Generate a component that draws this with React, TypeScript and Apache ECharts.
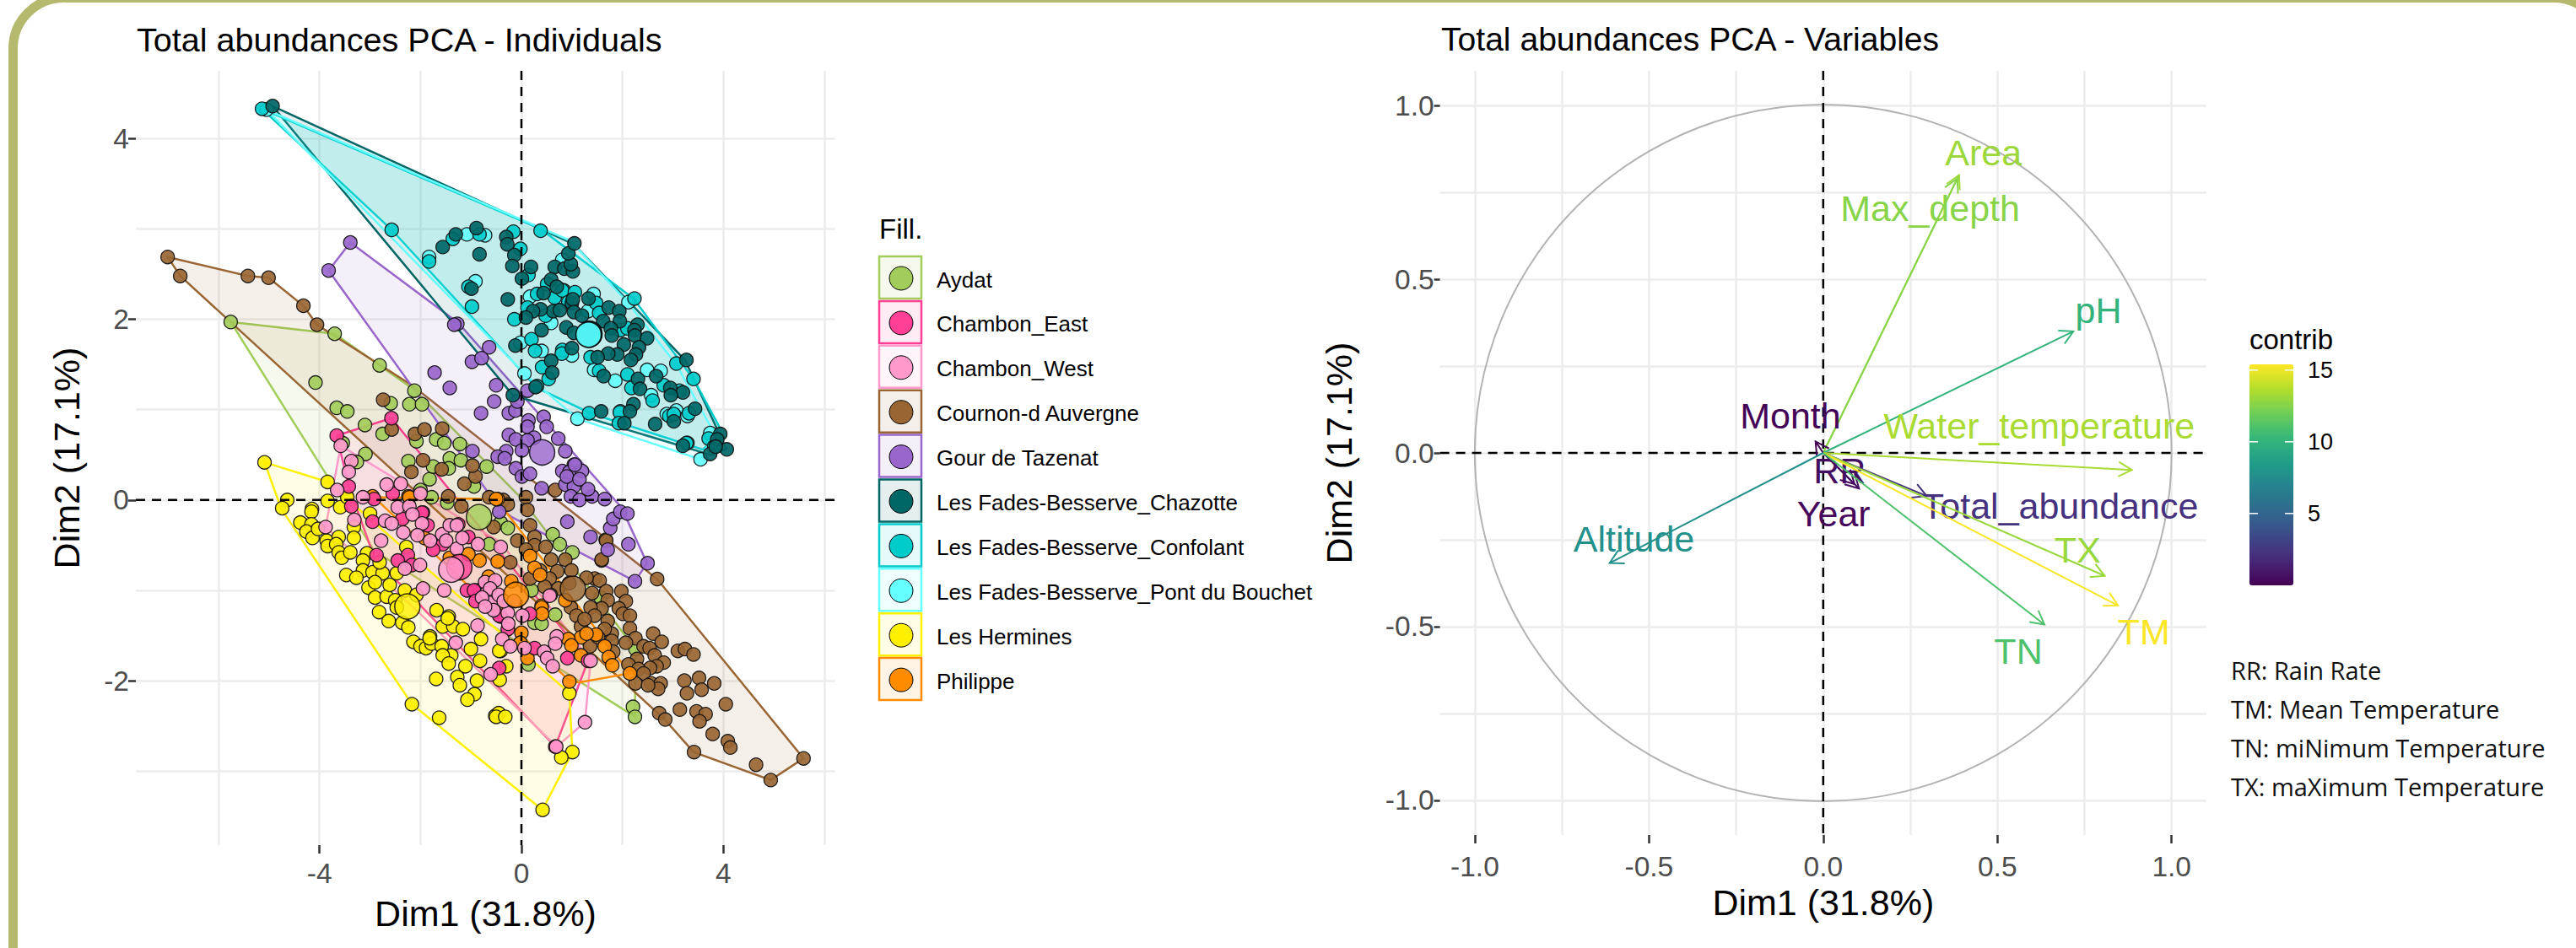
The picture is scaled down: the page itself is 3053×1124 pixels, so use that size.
import React, { useEffect, useRef } from "react";
import * as echarts from "echarts";

type P = [number, number];

const SITE_NAMES = ["Aydat", "Chambon_East", "Chambon_West", "Cournon-d Auvergne", "Gour de Tazenat", "Les Fades-Besserve_Chazotte", "Les Fades-Besserve_Confolant", "Les Fades-Besserve_Pont du Bouchet", "Les Hermines", "Philippe"];
const SITE_COLORS = ["#a2cd5a", "#ff3e96", "#ff99cc", "#996633", "#9966cc", "#006666", "#00cccc", "#66ffff", "#fff000", "#ff8c00"];

const aydat: P[] = [[-5.76,1.97],[-3.70,1.84],[-2.81,1.49],[-4.08,1.30],[-2.12,1.21],[-3.66,1.02],[-3.45,.98],[-3.10,.83],[-2.75,.73],[-2.59,1.07],[-2.22,1.06],[-1.97,1.06],[-2.08,.65],[-1.69,.67],[-1.53,.63],[-1.22,.62],[-2.24,.43],[-3.09,.51],[-3.26,.42],[-3.54,.63],[-1.82,.23],[-1.75,.37],[-1.42,.46],[-1.44,.35],[-1.20,.44],[-.69,.37],[-.94,.15],[-2.0,.11],[-1.78,.03],[-1.47,-.03],[-.41,-.25],[-.27,-.31],[.62,-.38],[.76,-.49],[1.01,-.58],[.20,-1.0],[.67,-1.27],[.26,-1.36],[.40,-1.37],[.14,-1.82],[2.21,-2.29],[2.25,-2.40],[2.26,-1.65],[1.57,-1.08],[-.64,-.49]];
const chambonEast: P[] = [[-2.575,.906],[-3.66,.713],[-3.42,.15],[-2.55,.07],[-2.92,.01],[-3.37,-.07],[-2.95,-.24],[-2.36,-.21],[-1.95,-.14],[-2.87,-.61],[-1.97,-.14],[-1.86,-.28],[-1.25,-.27],[-1.05,-.41],[-1.56,-.49],[-1.75,-.55],[-2.25,-.61],[-2.45,-.67],[-2.17,-.72],[-.91,-1.0],[-.41,-1.29],[-.77,-.98],[-1.08,-1.0],[-.94,-1.0],[-.44,-1.28],[-.91,-1.12],[-.27,-1.43],[.17,-1.26],[.26,-1.64],[.91,-1.75],[-.44,-1.86],[.67,-2.73],[1.32,-1.78]];
const chambonWest: P[] = [[-3.58,.60],[-3.37,.43],[-3.42,.31],[-2.67,.17],[-2.39,.18],[-2.0,.07],[-2.45,-.08],[-2.22,-.07],[-2.16,-.16],[-1.97,-.26],[-2.70,-.23],[-2.57,-.26],[-2.34,-.36],[-2.06,-.39],[-2.78,-.45],[-1.81,-.45],[-1.57,-.38],[-1.49,-.45],[-1.28,-.54],[-1.17,-.42],[-.86,-.49],[-2.31,-.76],[-2.01,-.72],[-1.95,-.98],[-1.53,-1.0],[-3.14,.03],[-3.31,-.22],[-3.88,-.30],[-3.65,.11],[-.72,-.91],[-.52,-.89],[-.69,-1.03],[-.61,-1.14],[-.27,-1.25],[-.26,-1.37],[.02,-1.28],[-.87,-1.39],[-.38,-1.54],[-.22,-1.62],[-1.30,-1.58],[.06,-1.64],[.45,-1.68],[.70,-1.51],[.67,-1.59],[.51,-1.75],[.62,-1.84],[.56,-1.06],[1.26,-2.46],[.69,-2.73],[1.37,-1.78],[-.61,-1.93],[-1.42,-.28],[-1.28,-.28],[-.41,-.52],[-.62,-.98],[-.45,-1.05],[-.78,-1.08],[-.35,-1.12],[-.55,-1.22],[-.72,-1.18],[-.15,-1.12]];
const cournon: P[] = [[-7.01,2.69],[-6.76,2.48],[-5.42,2.48],[-5.01,2.46],[-4.32,2.15],[-4.05,1.94],[-2.74,1.11],[-2.57,.78],[-2.11,.73],[-1.92,.78],[-1.57,.79],[-1.95,.44],[-2.18,.31],[-1.58,.34],[-1.13,.18],[-.91,.26],[-.97,.38],[-1.45,.04],[-1.19,-.07],[-.64,.03],[-.36,0],[-.27,-.05],[.09,.03],[.12,-.11],[.67,.11],[1.59,-.67],[1.67,-.44],[-.55,-.30],[-.08,-.45],[.17,-.28],[.26,-.41],[-.22,-.69],[2.69,-.875],[1.45,-.87],[1.55,-.89],[1.98,-1.01],[2.07,-1.12],[1.68,-1.01],[1.40,-1.03],[1.71,-1.11],[1.93,-1.20],[2.01,-1.26],[2.15,-1.28],[1.59,-1.20],[1.37,-1.19],[1.29,-.86],[.98,-1.19],[1.09,-1.28],[1.45,-1.28],[1.18,-1.40],[1.71,-1.34],[1.79,-1.48],[1.65,-1.43],[2.15,-1.42],[2.26,-1.53],[2.07,-1.58],[2.61,-1.48],[2.78,-1.57],[2.42,-1.62],[2.54,-1.64],[2.64,-1.72],[1.36,-1.62],[3.10,-1.67],[3.24,-1.65],[3.41,-1.71],[2.82,-1.80],[2.29,-1.76],[2.68,-1.84],[2.55,-1.86],[2.12,-1.82],[2.32,-1.87],[2.42,-1.92],[2.26,-2.03],[2.57,-2.03],[2.76,-2.03],[2.71,-2.09],[2.51,-2.05],[3.23,-2.0],[3.52,-1.97],[3.82,-2.03],[3.57,-2.10],[3.28,-2.14],[4.05,-2.26],[3.14,-2.32],[3.47,-2.34],[3.65,-2.37],[3.53,-2.45],[2.73,-2.36],[2.85,-2.43],[3.79,-2.59],[4.09,-2.67],[4.14,-2.74],[4.65,-2.93],[3.42,-2.79],[4.94,-3.10],[5.59,-2.86],[1.68,-.45],[1.59,-.66],[.87,-.66],[.99,-.78],[.59,-.66],[.71,-.79],[.56,-.87],[.26,-.50],[.48,-.52],[.09,-.55],[.37,-.78],[.17,-.87],[1.79,-1.56],[.73,-.98],[.95,-.92],[.58,-1.05],[.46,-.96],[1.25,-1.32],[1.52,-1.52],[1.82,-1.68]];
const gour: P[] = [[-3.39,2.85],[-3.82,2.54],[-1.27,1.95],[-1.33,1.94],[-.64,1.69],[-.98,1.53],[-.79,1.57],[-1.72,1.41],[-1.42,1.24],[-.50,1.27],[-.54,1.09],[-.80,.96],[-.25,.96],[-.12,.99],[-.08,1.09],[.12,1.21],[.14,.88],[.44,.92],[.12,.81],[.50,.81],[-.25,.72],[-.11,.67],[.25,.69],[.12,.66],[.73,.68],[.87,.54],[.01,.55],[-.30,.54],[-.47,.48],[-.33,.46],[-.11,.35],[.01,.26],[.17,.29],[.81,.32],[1.04,.39],[.95,.31],[1.20,.32],[-.97,.54],[.40,.13],[.87,.17],[1.04,.15],[1.06,.39],[.90,.26],[1.15,.23],[.98,.04],[1.15,0],[1.40,.04],[1.65,.01],[1.32,.12],[.91,-.24],[1.37,-.41],[1.71,-.55],[2.12,-.49],[1.76,-.31],[1.82,-.21],[1.96,-.13],[2.10,-.15],[2.50,-.70],[2.25,-.90],[-.44,-.13]];
const chazotte: P[] = [[-4.93,4.36],[-1.30,2.94],[-.89,3.01],[-1.56,2.80],[-.83,2.72],[-.30,2.91],[-.28,2.83],[-.14,2.71],[-.18,2.59],[.19,2.58],[.01,2.45],[-.99,2.34],[-.27,2.22],[.66,2.58],[.85,2.56],[1.02,2.53],[.98,2.61],[.93,2.73],[1.05,2.84],[.59,2.44],[.70,2.36],[.44,2.29],[1.00,2.18],[1.02,2.22],[1.33,2.23],[1.04,2.08],[1.20,2.04],[.63,2.09],[.38,2.11],[.23,2.09],[.09,2.02],[.40,1.88],[.76,2.10],[.89,1.91],[1.04,1.85],[1.73,2.13],[1.94,2.09],[1.95,1.98],[1.62,1.98],[1.77,1.90],[1.79,1.82],[2.30,1.94],[2.24,1.88],[2.25,1.82],[2.49,1.79],[2.33,1.69],[2.03,1.72],[1.90,1.61],[1.72,1.62],[1.51,1.58],[2.27,1.61],[2.17,1.55],[1.63,1.37],[1.00,1.68],[-.12,1.71],[.59,1.54],[.61,1.41],[.28,1.25],[-.17,1.16],[2.31,1.34],[2.67,1.37],[2.35,1.23],[2.95,1.24],[3.20,1.19],[2.96,1.16],[2.22,1.06],[2.15,.98],[2.04,.85],[1.58,.98],[3.02,.87],[2.65,.84],[3.44,1.01],[3.20,.60],[3.27,1.55],[3.94,.73],[3.88,.67],[4.07,.56],[3.74,.51],[3.85,.59]];
const confolant: P[] = [[-5.14,4.33],[-2.57,2.99],[-1.83,2.64],[-1.36,2.89],[-.83,2.94],[-.16,2.97],[-.02,2.78],[.14,2.49],[.38,2.98],[-.98,2.14],[-1.05,2.36],[-.14,2.00],[.20,1.78],[.27,1.65],[.41,1.47],[.54,1.34],[.81,1.66],[.80,1.62],[.66,2.24],[.31,2.28],[.51,2.39],[.81,2.32],[.93,2.19],[1.06,2.30],[.48,2.04],[1.48,2.18],[.12,2.13],[1.54,2.07],[1.96,1.88],[2.10,1.90],[1.37,1.58],[1.54,1.43],[2.10,1.39],[2.24,2.23],[2.60,1.10],[2.82,1.27],[2.18,1.24],[1.34,.96],[1.95,.97],[1.93,.85],[2.93,.93],[3.02,.95],[3.32,.96],[3.41,1.34],[3.27,.63],[3.71,.68],[3.82,.59],[.31,1.26],[3.13,1.21],[3.07,1.51]];
const pontBouchet: P[] = [[-5.05,4.32],[-1.83,2.69],[-.72,2.93],[-1.08,2.94],[-.91,2.42],[.06,1.40],[-.02,1.74],[.59,1.96],[1.00,1.60],[.40,1.65],[1.32,2.09],[1.43,2.28],[.17,2.25],[.84,2.32],[.81,2.66],[1.86,1.32],[1.44,1.44],[1.11,.90],[1.96,.98],[2.57,1.16],[2.76,1.43],[2.49,1.44],[3.07,.99],[2.88,.95],[3.29,.93],[3.55,.45],[3.29,.63],[2.12,2.19],[3.74,.74]];
const hermines: P[] = [[-5.09,.417],[-4.64,0],[-4.74,-.09],[-3.84,.20],[-3.84,-.01],[-4.15,-.10],[-4.16,-.13],[-3.59,-.08],[-4.38,-.25],[-4.16,-.27],[-4.26,-.35],[-4.14,-.42],[-4.03,-.32],[-3.86,-.45],[-3.84,-.51],[-3.62,-.41],[-3.67,-.49],[-3.32,-.30],[-3.32,-.42],[-3.62,-.58],[-3.56,-.64],[-3.39,-.58],[-3.06,-.59],[-3.14,-.67],[-3.14,-.78],[-3.47,-.83],[-3.27,-.86],[-2.95,-.80],[-2.75,-.81],[-3.03,-.97],[-2.90,-.91],[-2.90,-1.08],[-2.67,-1.07],[-2.82,-1.24],[-2.63,-1.34],[-2.36,-1.36],[-2.24,-1.41],[-2.50,-1.11],[-2.47,-1.19],[-2.61,-.94],[-2.31,-1.0],[-2.08,-1.05],[-2.81,-.69],[-2.47,-.81],[-2.28,-.52],[-3.0,-.15],[-3.45,.03],[-2.14,-1.57],[-2.0,-1.62],[-1.89,-1.64],[-1.81,-1.51],[-1.78,-1.59],[-1.58,-1.62],[-1.68,-1.22],[-1.44,-1.29],[-1.56,-1.40],[-1.35,-1.40],[-1.16,-1.43],[-.80,-1.54],[-1.0,-1.65],[-1.39,-1.72],[-.41,-1.67],[-1.82,-1.53],[-1.56,-1.72],[-1.44,-1.81],[-1.11,-1.84],[-1.69,-1.98],[-1.27,-1.96],[-1.22,-2.05],[-.88,-2.0],[-.93,-2.15],[-1.07,-2.21],[-2.17,-2.26],[-1.63,-2.41],[-.52,-2.39],[-.45,-2.36],[-.50,-2.40],[-.32,-2.40],[-1.46,-1.31],[-.82,-1.78],[-.44,-1.67],[-.30,-1.84],[-.43,-1.99],[.95,-2.14],[1.01,-2.79],[.79,-2.85],[.42,-3.43]];
const philippe: P[] = [[-2.95,.04],[-2.24,.04],[-.47,.01],[-.83,-.67],[-.47,-.68],[-1.42,-.64],[0,-1.47],[-.02,-1.58],[-.50,.01],[-1.92,-.42],[-2.22,.03],[-.47,-1.19],[.40,-1.17],[.17,-.62],[.26,-.75],[.37,-.83],[1.48,-1.49],[1.18,-1.52],[1.29,-1.48],[1.65,-1.62],[1.73,-1.74],[1.80,-1.83],[.93,-1.54],[.99,-1.61],[1.18,-1.72],[2.15,-1.92],[.95,-2.01],[.87,-1.11],[.40,-1.19],[.41,-1.26],[.12,-1.75],[-1.05,-.60],[-.20,-.90],[-.65,-.85]];
const SITE_POINTS: P[][] = [aydat, chambonEast, chambonWest, cournon, gour, chazotte, confolant, pontBouchet, hermines, philippe];

const aydatHull: P[] = [[-5.76,1.97],[-3.70,1.84],[-2.81,1.49],[-2.12,1.22],[-.02,.03],[2.26,-1.65],[2.25,-2.40],[-2.92,-.56]];
const chambonEastHull: P[] = [[-2.575,.906],[-3.66,.713],[-3.42,.15],[-2.92,-.63],[.67,-2.73],[1.32,-1.78]];
const chambonWestHull: P[] = [[-3.58,.60],[-.41,-.47],[1.37,-1.78],[1.26,-2.46],[.70,-2.73],[-1.97,-1.28],[-3.88,-.30]];
const cournonHull: P[] = [[-7.01,2.69],[-5.42,2.48],[-5.01,2.46],[-4.32,2.15],[-4.05,1.94],[-2.17,1.27],[2.69,-.875],[5.59,-2.86],[4.94,-3.10],[3.41,-2.79],[2.84,-2.43],[-6.76,2.48]];
const gourHull: P[] = [[-3.39,2.85],[-1.25,1.96],[1.98,-.08],[2.49,-.70],[2.25,-.90],[-.19,-.19],[-.47,-.065],[-3.82,2.54]];
const chazotteHull: P[] = [[-4.93,4.36],[1.04,2.83],[3.24,1.55],[4.06,.567],[3.77,.495],[-.17,1.16]];
const confolantHull: P[] = [[-5.14,4.33],[.38,3.0],[2.22,2.23],[3.42,1.33],[3.96,.77],[3.6,.557],[1.37,.96],[.31,1.24],[-2.57,2.99]];
const pontBouchetHull: P[] = [[-5.05,4.32],[.97,2.87],[2.10,2.19],[3.07,1.5],[3.82,.74],[3.55,.45],[1.11,.90],[.06,1.40]];
const herminesHull: P[] = [[-5.09,.417],[-3.84,.20],[.95,-2.135],[1.01,-2.79],[.416,-3.43],[-2.17,-2.26],[-4.76,-.097]];
const philippeHull: P[] = [[-2.92,.03],[-.50,.01],[2.15,-1.92],[1.13,-2.02],[.93,-1.99]];
const SITE_HULLS: P[][] = [aydatHull, chambonEastHull, chambonWestHull, cournonHull, gourHull, chazotteHull, confolantHull, pontBouchetHull, herminesHull, philippeHull];

const CENTROIDS: P[] = [[-.84,-.19],[-1.23,-.744],[-1.39,-.77],[1.02,-.983],[.41,.526],[1.35,1.84],[1.34,1.83],[1.33,1.83],[-2.26,-1.18],[-.106,-1.05]];

const VAR_NAMES = ["Area", "Max_depth", "pH", "Water_temperature", "Month", "Year", "RR", "Total_abundance", "TX", "TM", "TN", "Altitude"];
const VAR_X = [0.39, 0.385, 0.718, 0.886, -0.022, 0.09, 0.103, 0.297, 0.808, 0.846, 0.635, -0.613];
const VAR_Y = [0.8, 0.79, 0.35, -0.049, 0.033, -0.09, -0.1025, -0.124, -0.354, -0.439, -0.494, -0.317];
const VAR_CONTRIB = [13.1, 12.6, 10, 13.4, 0.1, 0.3, 0.6, 2.2, 13, 15.3, 11, 7.7];
const LABEL_X = [0.46, 0.307, 0.79, 0.62, -0.094, 0.03, 0.047, 0.68, 0.73, 0.92, 0.56, -0.543];
const LABEL_Y = [0.865, 0.705, 0.41, 0.078, 0.108, -0.176, -0.05, -0.153, -0.28, -0.516, -0.57, -0.247];

const VIRIDIS = ["#440154", "#482878", "#3e4989", "#31688e", "#26828e", "#1f9e89", "#35b779", "#6ece58", "#b5de2b", "#fde725"];
const CONTRIB_TICKS = [15, 10, 5];
const NOTES = ["RR: Rain Rate", "TM: Mean Temperature", "TN: miNimum Temperature", "TX: maXimum Temperature"];

const IND_X_LABELS = [-4, 0, 4];
const IND_X_GRID = [-6, -4, -2, 0, 2, 4, 6];
const IND_Y_LABELS = [-2, 0, 2, 4];
const IND_Y_GRID = [-3, -2, -1, 0, 1, 2, 3, 4];
const VAR_LABELS = [-1, -0.5, 0, 0.5, 1];
const VAR_GRID = [-1, -0.75, -0.5, -0.25, 0, 0.25, 0.5, 0.75, 1];

const FONT = '"Liberation Sans", Arial, sans-serif';
const W = 3053;
const H = 1124;

function rgba(hex: string, a: number) {
  const n = parseInt(hex.slice(1), 16);
  return `rgba(${(n >> 16) & 255},${(n >> 8) & 255},${n & 255},${a})`;
}

function labelAxis(min: number, max: number, ticks: number[], grid: number, tickLen: number, margin: number, digits: number, name: string, gap: number, pos: string) {
  return {
    type: "value", gridIndex: grid, min, max, position: pos,
    name, nameLocation: "middle", nameGap: gap,
    nameTextStyle: { fontSize: 43, fontFamily: FONT, color: "#000" },
    axisLine: { show: true, onZero: false, lineStyle: { color: "rgba(0,0,0,0)", width: 1 } },
    axisTick: { show: true, inside: false, length: tickLen, customValues: ticks, lineStyle: { color: "#333333", width: 2.5 } },
    axisLabel: { show: true, margin, customValues: ticks, fontSize: 33.5, fontFamily: FONT, color: "#4d4d4d", formatter: (v: number) => v.toFixed(digits) },
    splitLine: { show: false },
  };
}
function gridAxis(min: number, max: number, lines: number[], grid: number, pos: string, w: number) {
  return {
    type: "value", gridIndex: grid, min, max, position: pos,
    axisLine: { show: false, onZero: false },
    axisTick: { show: false, customValues: lines },
    axisLabel: { show: false },
    splitLine: { show: true, lineStyle: { color: "#ececec", width: w } },
  };
}

function buildOption() {
  const series: any[] = [];
  const dash = (data: P[], xi: number, yi: number) => ({
    type: "line", xAxisIndex: xi, yAxisIndex: yi, data, showSymbol: false, silent: true, z: 3,
    lineStyle: { color: "#000", width: 2.5, type: [11, 8] },
  });
  const order = [0, 3, 4, 7, 6, 5, 8, 9, 1, 2];
  order.forEach((i) => {
    series.push({
      type: "scatter", name: SITE_NAMES[i], xAxisIndex: 0, yAxisIndex: 0, data: SITE_POINTS[i], symbolSize: 16, silent: true, z: 2,
      itemStyle: { color: SITE_COLORS[i], borderColor: "#111", borderWidth: 1.3, opacity: 0.92 },
    });
  });
  SITE_HULLS.forEach((hull, i) => {
    series.push({
      type: "custom", name: SITE_NAMES[i] + " hull", xAxisIndex: 0, yAxisIndex: 0, data: hull, silent: true, z: 2, clip: false,
      encode: { x: 0, y: 1 },
      renderItem: (params: any, api: any) => {
        if (params.dataIndex !== 0) return null;
        return {
          type: "polygon",
          shape: { points: hull.map((p) => api.coord(p)) },
          style: { fill: rgba(SITE_COLORS[i], 0.1), stroke: SITE_COLORS[i], lineWidth: 2.5 },
        };
      },
    });
  });
  series.push(dash([[-7.64, 0], [6.22, 0]], 0, 0), dash([[0, 4.75], [0, -3.82]], 0, 0));
  series.push({
    type: "scatter", name: "centroids", xAxisIndex: 0, yAxisIndex: 0, silent: true, z: 4, symbolSize: 30,
    data: CENTROIDS.map((p, i) => ({ value: p, itemStyle: { color: SITE_COLORS[i], borderColor: "#000", borderWidth: 1.5 } })),
  });
  series.push(dash([[-1.1, 0], [1.1, 0]], 2, 2), dash([[0, 1.1], [0, -1.1]], 2, 2));
  series.push({
    type: "custom", name: "circle", xAxisIndex: 2, yAxisIndex: 2, data: [[0, 0]], silent: true, z: 3, encode: { x: 0, y: 1 },
    renderItem: (_p: any, api: any) => {
      const c = api.coord([0, 0]);
      const r = api.size([1, 1])[0];
      return { type: "circle", shape: { cx: c[0], cy: c[1], r }, style: { fill: "none", stroke: "#b3b3b3", lineWidth: 2 } };
    },
  });
  const arrowIndex = series.length;
  series.push({
    type: "custom", name: "variables", xAxisIndex: 2, yAxisIndex: 2, silent: true, z: 4,
    data: VAR_X.map((x, i) => [x, VAR_Y[i], VAR_CONTRIB[i]]),
    encode: { x: 0, y: 1 },
    renderItem: (params: any, api: any) => {
      const i = params.dataIndex;
      const color = api.visual("color");
      const o = api.coord([0, 0]);
      const t = api.coord([api.value(0), api.value(1)]);
      const l = api.coord([LABEL_X[i], LABEL_Y[i]]);
      const a = Math.atan2(t[1] - o[1], t[0] - o[0]);
      const head = 18;
      const h1 = [t[0] - head * Math.cos(a - 0.5), t[1] - head * Math.sin(a - 0.5)];
      const h2 = [t[0] - head * Math.cos(a + 0.5), t[1] - head * Math.sin(a + 0.5)];
      return {
        type: "group",
        children: [
          { type: "line", shape: { x1: o[0], y1: o[1], x2: t[0], y2: t[1] }, style: { stroke: color, lineWidth: 2 } },
          { type: "polyline", shape: { points: [h1, t, h2] }, style: { stroke: color, fill: "none", lineWidth: 2 } },
          { type: "text", style: { x: l[0], y: l[1], text: VAR_NAMES[i], fill: color, fontSize: 43, fontFamily: FONT, align: "center", verticalAlign: "middle", textAlign: "center", textVerticalAlign: "middle" } },
        ],
      };
    },
  });

  const legend: any[] = [
    { type: "text", x: 1042, y: 271, style: { text: "Fill.", fontSize: 33, fontFamily: FONT, fill: "#000", verticalAlign: "middle" } },
  ];
  SITE_NAMES.forEach((name, i) => {
    const top = 304 + i * 52.9;
    legend.push(
      { type: "rect", shape: { x: 1042, y: top, width: 50, height: 50 }, style: { fill: rgba(SITE_COLORS[i], 0.1), stroke: SITE_COLORS[i], lineWidth: 2.5 } },
      { type: "circle", shape: { cx: 1068, cy: top + 26, r: 14 }, style: { fill: SITE_COLORS[i], stroke: "#000", lineWidth: 1 } },
      { type: "text", x: 1110, y: top + 27.5, style: { text: name, fontSize: 26, fontFamily: FONT, fill: "#000", verticalAlign: "middle" } },
    );
  });
  const bar: any[] = [
    { type: "text", x: 2666, y: 402, z: 10, style: { text: "contrib", fontSize: 33, fontFamily: FONT, fill: "#000", verticalAlign: "middle" } },
  ];
  CONTRIB_TICKS.forEach((v) => {
    const y = 693.8 - (v / 15.4) * 261.8;
    bar.push(
      { type: "line", z: 10, shape: { x1: 2666, y1: y, x2: 2676, y2: y }, style: { stroke: "#fff", lineWidth: 1.5 } },
      { type: "line", z: 10, shape: { x1: 2708, y1: y, x2: 2718, y2: y }, style: { stroke: "#fff", lineWidth: 1.5 } },
      { type: "text", x: 2735, y, z: 10, style: { text: String(v), fontSize: 27, fontFamily: FONT, fill: "#000", verticalAlign: "middle" } },
    );
  });
  const notes = NOTES.map((t, i) => ({
    type: "text", x: 2644, y: 794 + i * 46.3,
    style: { text: t, fontSize: 29, fontFamily: '"Open Sans", "Noto Sans", sans-serif', fill: "#111", verticalAlign: "middle" },
  }));

  return {
    animation: false,
    backgroundColor: "#fff",
    title: [
      { text: "Total abundances PCA - Individuals", left: 162, top: 27, padding: 0, textStyle: { fontSize: 39.6, fontWeight: "normal", fontFamily: FONT, color: "#000" } },
      { text: "Total abundances PCA - Variables", left: 1708, top: 27, padding: 0, textStyle: { fontSize: 39.1, fontWeight: "normal", fontFamily: FONT, color: "#000" } },
    ],
    grid: [
      { left: 161, top: 84, width: 829, height: 918, containLabel: false },
      { left: 1706.6, top: 84, width: 908.4, height: 906, containLabel: false },
    ],
    xAxis: [
      labelAxis(-7.64, 6.22, IND_X_LABELS, 0, 10, 16, 0, "Dim1 (31.8%)", 59, "bottom"),
      gridAxis(-7.64, 6.22, IND_X_GRID, 0, "bottom", 2.5),
      labelAxis(-1.1, 1.1, VAR_LABELS, 1, 10, 20, 1, "Dim1 (31.8%)", 53, "bottom"),
      gridAxis(-1.1, 1.1, VAR_GRID, 1, "bottom", 2.5),
    ],
    yAxis: [
      labelAxis(-3.82, 4.75, IND_Y_LABELS, 0, 9, 8, 0, "Dim2 (17.1%)", 61, "left"),
      gridAxis(-3.82, 4.75, IND_Y_GRID, 0, "left", 2.5),
      labelAxis(-1.1, 1.1, VAR_LABELS, 1, 7, 7, 1, "Dim2 (17.1%)", 98, "left"),
      gridAxis(-1.1, 1.1, VAR_GRID, 1, "left", 2.5),
    ],
    visualMap: [{
      type: "continuous", show: true, seriesIndex: arrowIndex, dimension: 2, min: 0, max: 15.4,
      left: 2666, top: 432, itemWidth: 52, itemHeight: 262, padding: 0, calculable: false, hoverLink: false, text: null, realtime: false,
      inRange: { color: VIRIDIS }, textStyle: { color: "rgba(0,0,0,0)", fontSize: 1 },
    }],
    graphic: { elements: [
      { type: "rect", z: 0, silent: true, shape: { x: 15.5, y: -2.5, width: 3071, height: 1400, r: 60 }, style: { fill: "none", stroke: "#b5b96d", lineWidth: 11 } },
      ...legend, ...bar, ...notes,
    ] },
    series,
  };
}

export default function App() {
  const ref = useRef<HTMLDivElement>(null);
  useEffect(() => {
    document.body.style.margin = "0";
    document.body.style.background = "#fff";
    const chart = echarts.init(ref.current as HTMLDivElement, undefined, { renderer: "svg", width: W, height: H });
    chart.setOption(buildOption() as any);
    return () => chart.dispose();
  }, []);
  return <div ref={ref} style={{ width: W, height: H, overflow: "hidden" }} />;
}
